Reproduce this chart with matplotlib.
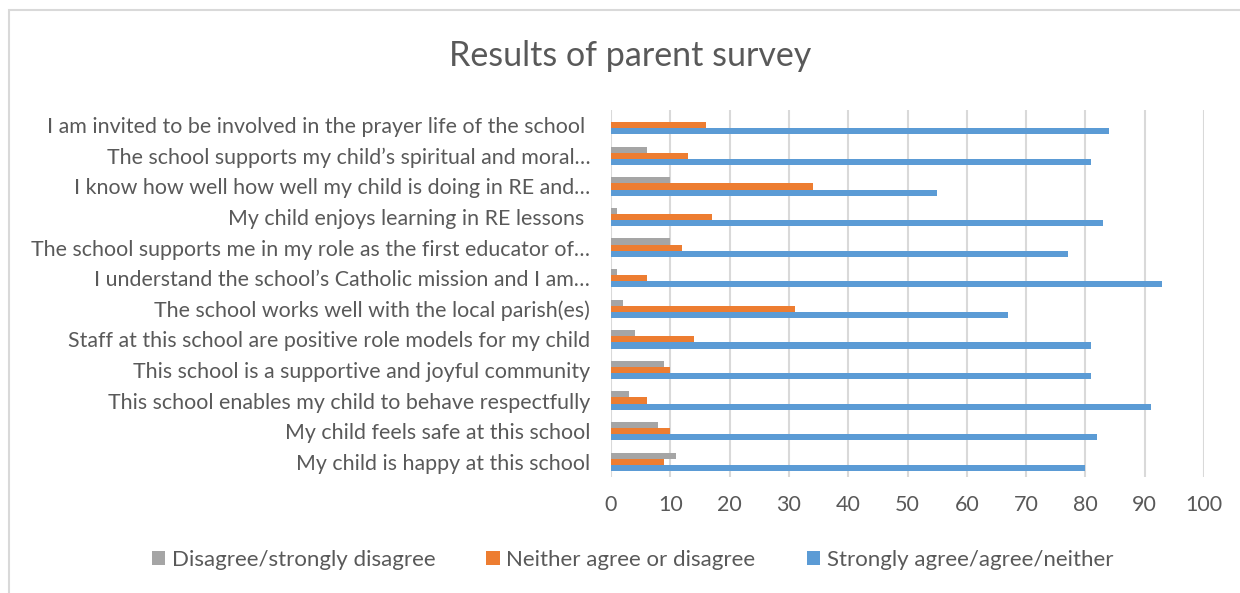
import matplotlib.pyplot as plt
import numpy as np
from matplotlib.patches import Rectangle

plt.rcParams["font.family"] = ["Lato", "DejaVu Sans"]

# categories listed bottom to top
categories = [
    "My child is happy at this school",
    "My child feels safe at this school",
    "This school enables my child to behave respectfully",
    "This school is a supportive and joyful community",
    "Staff at this school are positive role models for my child",
    "The school works well with the local parish(es)",
    "I understand the school\u2019s Catholic mission and I am\u2026",
    "The school supports me in my role as the first educator of\u2026",
    "My child enjoys learning in RE lessons ",
    "I know how well how well my child is doing in RE and\u2026",
    "The school supports my child\u2019s spiritual and moral\u2026",
    "I am invited to be involved in the prayer life of the school ",
]
disagree = [11, 8, 3, 9, 4, 2, 1, 10, 1, 10, 6, 0]
neither = [9, 10, 6, 10, 14, 31, 6, 12, 17, 34, 13, 16]
agree = [80, 82, 91, 81, 81, 67, 93, 77, 83, 55, 81, 84]

series = ["Disagree/strongly disagree", "Neither agree or disagree",
          "Strongly agree/agree/neither"]
colors = ["#A5A5A5", "#ED7D31", "#5B9BD5"]

fig = plt.figure(figsize=(12.4, 5.93), dpi=100)
ax = fig.add_axes([611 / 1240, 1 - 477 / 593, 593 / 1240, 367 / 593])

y = np.arange(len(categories))
h = 0.2
ax.barh(y + h, disagree, height=h, color=colors[0], label=series[0], zorder=3)
ax.barh(y, neither, height=h, color=colors[1], label=series[1], zorder=3)
ax.barh(y - h, agree, height=h, color=colors[2], label=series[2], zorder=3)

ax.set_xlim(0, 100)
ax.set_ylim(-0.5, len(categories) - 0.5)
ax.set_xticks(range(0, 101, 10))
ax.set_yticks(y)
ax.set_yticklabels(categories)
ax.grid(axis="x", color="#D9D9D9", linewidth=1.5, zorder=0)
for s in ax.spines.values():
    s.set_visible(False)
ax.tick_params(axis="y", length=0, pad=15, labelsize=15.4, labelcolor="#595959")
ax.tick_params(axis="x", length=0, pad=13, labelsize=15.5, labelcolor="#595959")

fig.text(0.508, 1 - 56 / 593, "Results of parent survey", ha="center",
         va="center", fontsize=24.5, color="#595959")

fig.legend(loc="center", bbox_to_anchor=(0.51, 1 - 560 / 593), ncol=3,
           frameon=False, fontsize=16, labelcolor="#595959", handlelength=0.6,
           handleheight=0.6, handletextpad=0.3, columnspacing=2.3)

fig.patches.append(Rectangle((9 / 1240, -0.1), 1.2, 1 - 10 / 593 + 0.1,
                             transform=fig.transFigure, fill=False,
                             edgecolor="#D9D9D9", linewidth=1.5))

fig.savefig("out.png", dpi=100)
